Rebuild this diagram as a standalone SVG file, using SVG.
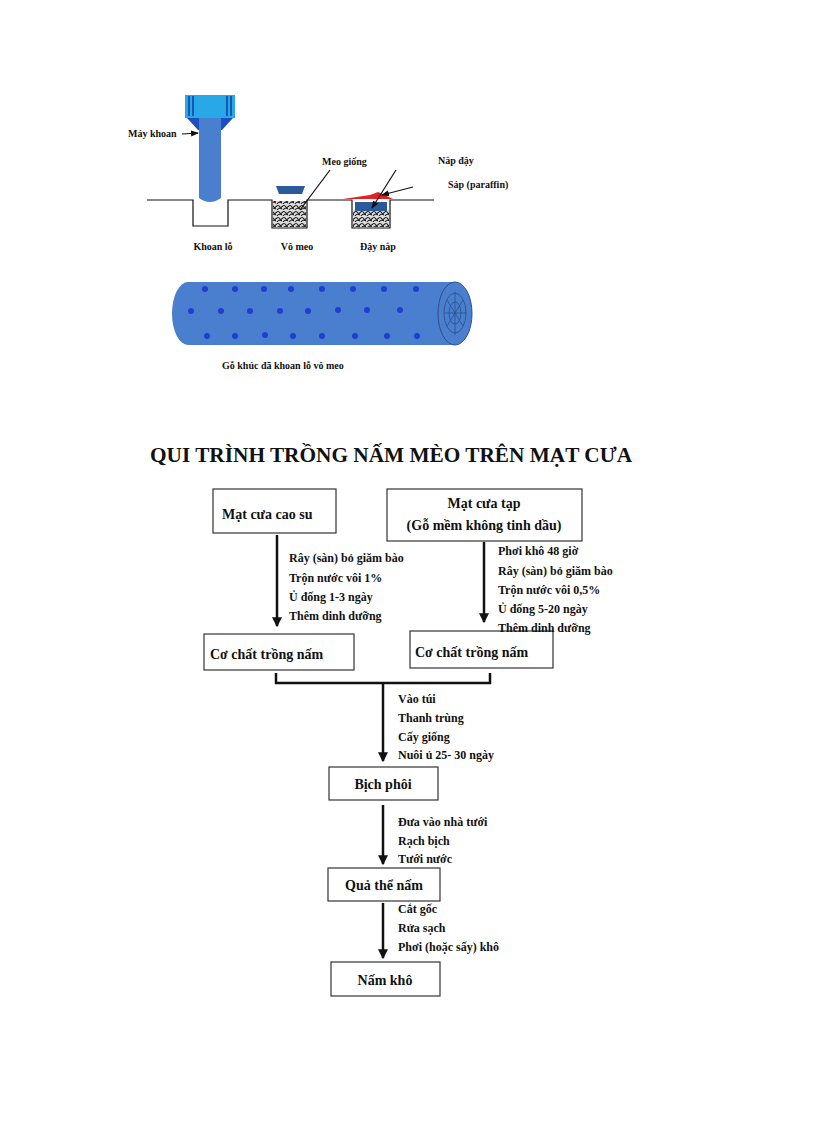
<svg xmlns="http://www.w3.org/2000/svg" width="816" height="1123" viewBox="0 0 816 1123">
<style>
text{font-family:"Liberation Serif",serif;font-weight:bold;fill:#111}
.s{font-size:10px}
.m{font-size:12px}
.b{font-size:14px}
.box{fill:#fff;stroke:#333;stroke-width:1.2}
.ln{stroke:#111;stroke-width:1.2;fill:none}
.ar{stroke:#111;stroke-width:2.5;fill:none;marker-end:url(#ah)}
.dot{fill:#1f3fd0}
</style>
<defs>
<marker id="ah" markerWidth="4" markerHeight="4" refX="3.5" refY="2" orient="auto" markerUnits="strokeWidth"><path d="M0,0L4,2L0,4z" fill="#111"/></marker>
<marker id="sa" markerWidth="8" markerHeight="8" refX="7" refY="4" orient="auto" markerUnits="userSpaceOnUse"><path d="M0,1L8,4L0,7z" fill="#111"/></marker>
<pattern id="tx" width="6" height="6" patternUnits="userSpaceOnUse"><rect width="6" height="6" fill="#ddd"/><path d="M0,3Q2,0 4,3T6,2M1,6Q3,3 6,5" stroke="#222" stroke-width="1.2" fill="none"/></pattern>
</defs>
<rect width="816" height="1123" fill="#fff"/>
<g id="drill">
<rect x="185" y="95" width="50" height="23" fill="#29a8e8"/>
<path d="M189,96v20M193,96v20M227,96v20M231,96v20" stroke="#0b3fa0" stroke-width="1.5"/>
<polygon points="187,118 233,118 222,130 198,130" fill="#1e4fc0"/>
<path d="M199,118H221V198Q210,206 199,198Z" fill="#4a7fcf"/>
</g>
<g id="ground">
<path d="M147,200H193V226H228V200H272V228H307V200H352V228H390V200H434" class="ln"/>
<rect x="273" y="201" width="33" height="26" fill="url(#tx)"/>
<rect x="353" y="210" width="36" height="17" fill="url(#tx)"/>
<rect x="355" y="202" width="32" height="9" fill="#2a5a9a"/>
<path d="M276,186H305L302,194H279Z" fill="#2a5a9a"/>
<polygon points="343,199 370,195 378,192 393,199" fill="#e52020"/>
</g>
<g id="labels-top">
<text class="s" x="128" y="137">Máy khoan</text>
<line x1="182" y1="134" x2="198" y2="133" class="ln" marker-end="url(#sa)"/>
<text class="s" x="322" y="165">Meo giống</text>
<line x1="330" y1="170" x2="300" y2="210" class="ln"/>
<text class="s" x="438" y="164">Nắp đậy</text>
<line x1="396" y1="170" x2="372" y2="208" class="ln" marker-end="url(#sa)"/>
<text class="s" x="448" y="188">Sáp (paraffin)</text>
<line x1="413" y1="187" x2="382" y2="195" class="ln" marker-end="url(#sa)"/>
<text class="s" x="213" y="250" text-anchor="middle">Khoan lỗ</text>
<text class="s" x="297" y="250" text-anchor="middle">Vô meo</text>
<text class="s" x="378" y="250" text-anchor="middle">Đậy nắp</text>
</g>
<g id="log">
<path d="M188,282H455A17,31.5 0 0 1 455,345H188A16,31.5 0 0 1 188,282Z" fill="#4a7fcf"/>
<ellipse cx="455" cy="313.5" rx="17" ry="31.5" fill="none" stroke="#2b4f8a"/>
<g fill="none" stroke="#2b4f8a" stroke-width="0.8"><ellipse cx="455" cy="313" rx="11" ry="20"/><ellipse cx="455" cy="313" rx="6" ry="11"/><path d="M455,292V335M444,313H466M447,300L463,326M463,300L447,326"/></g>
<g class="dot">
<circle cx="205" cy="289" r="3"/><circle cx="235" cy="289" r="3"/><circle cx="264" cy="289" r="3"/><circle cx="291" cy="289" r="3"/><circle cx="322" cy="289" r="3"/><circle cx="353" cy="289" r="3"/><circle cx="384" cy="289" r="3"/><circle cx="416" cy="289" r="3"/>
<circle cx="191" cy="311" r="3"/><circle cx="221" cy="311" r="3"/><circle cx="250" cy="311" r="3"/><circle cx="280" cy="311" r="3"/><circle cx="308" cy="311" r="3"/><circle cx="338" cy="310" r="3"/><circle cx="367" cy="310" r="3"/><circle cx="400" cy="310" r="3"/>
<circle cx="207" cy="336" r="3"/><circle cx="235" cy="336" r="3"/><circle cx="265" cy="335" r="3"/><circle cx="293" cy="336" r="3"/><circle cx="322" cy="336" r="3"/><circle cx="355" cy="336" r="3"/><circle cx="387" cy="336" r="3"/><circle cx="417" cy="336" r="3"/>
</g>
<text class="s" x="222" y="369">Gỗ khúc đã khoan lỗ vô meo</text>
</g>
<text x="150" y="462" style="font-size:21px" textLength="482" lengthAdjust="spacingAndGlyphs">QUI TRÌNH TRỒNG NẤM MÈO TRÊN MẠT CƯA</text>
<g id="n1"><rect class="box" x="213" y="489" width="123" height="44"/><text class="b" x="222" y="519">Mạt cưa cao su</text></g>
<g id="n2"><rect class="box" x="387" y="489" width="195" height="52"/><text class="b" x="484" y="508" text-anchor="middle">Mạt cưa tạp</text><text class="b" x="484" y="530" text-anchor="middle">(Gỗ mềm không tinh dầu)</text></g>
<g id="n3"><rect class="box" x="204" y="634" width="150" height="36"/><text class="b" x="210" y="659">Cơ chất trồng nấm</text></g>
<g id="n4"><rect class="box" x="410" y="631" width="143" height="37"/><text class="b" x="415" y="657">Cơ chất trồng nấm</text></g>
<g id="n5"><rect class="box" x="329" y="767" width="109" height="33"/><text class="b" x="383" y="789" text-anchor="middle">Bịch phôi</text></g>
<g id="n6"><rect class="box" x="328" y="868" width="112" height="33"/><text class="b" x="384" y="890" text-anchor="middle">Quả thể nấm</text></g>
<g id="n7"><rect class="box" x="331" y="962" width="109" height="34"/><text class="b" x="385" y="985" text-anchor="middle">Nấm khô</text></g>
<g id="connectors">
<line class="ar" x1="277" y1="535" x2="277" y2="626"/>
<line class="ar" x1="484" y1="542" x2="484" y2="622"/>
<path d="M276,673V683H490V673" stroke="#111" stroke-width="2.5" fill="none"/>
<line class="ar" x1="383" y1="683" x2="383" y2="761"/>
<line class="ar" x1="383" y1="805" x2="383" y2="864"/>
<line class="ar" x1="383" y1="903" x2="383" y2="958"/>
</g>
<g id="step-labels" class="m">
<text class="m" x="289" y="562">Rây (sàn) bỏ giăm bào</text>
<text class="m" x="289" y="582">Trộn nước vôi 1%</text>
<text class="m" x="289" y="601">Ủ đống 1-3 ngày</text>
<text class="m" x="289" y="620">Thêm dinh dưỡng</text>
<text class="m" x="498" y="555">Phơi khô 48 giờ</text>
<text class="m" x="498" y="575">Rây (sàn) bỏ giăm bào</text>
<text class="m" x="498" y="594">Trộn nước vôi 0,5%</text>
<text class="m" x="498" y="613">Ủ đống 5-20 ngày</text>
<text class="m" x="498" y="632">Thêm dinh dưỡng</text>
<text class="m" x="398" y="703">Vào túi</text>
<text class="m" x="398" y="722">Thanh trùng</text>
<text class="m" x="398" y="741">Cấy giống</text>
<text class="m" x="398" y="759">Nuôi ủ 25- 30 ngày</text>
<text class="m" x="398" y="826">Đưa vào nhà tưới</text>
<text class="m" x="398" y="845">Rạch bịch</text>
<text class="m" x="398" y="863">Tưới nước</text>
<text class="m" x="398" y="913">Cắt gốc</text>
<text class="m" x="398" y="932">Rửa sạch</text>
<text class="m" x="398" y="951">Phơi  (hoặc sấy) khô</text>
</g>
</svg>
